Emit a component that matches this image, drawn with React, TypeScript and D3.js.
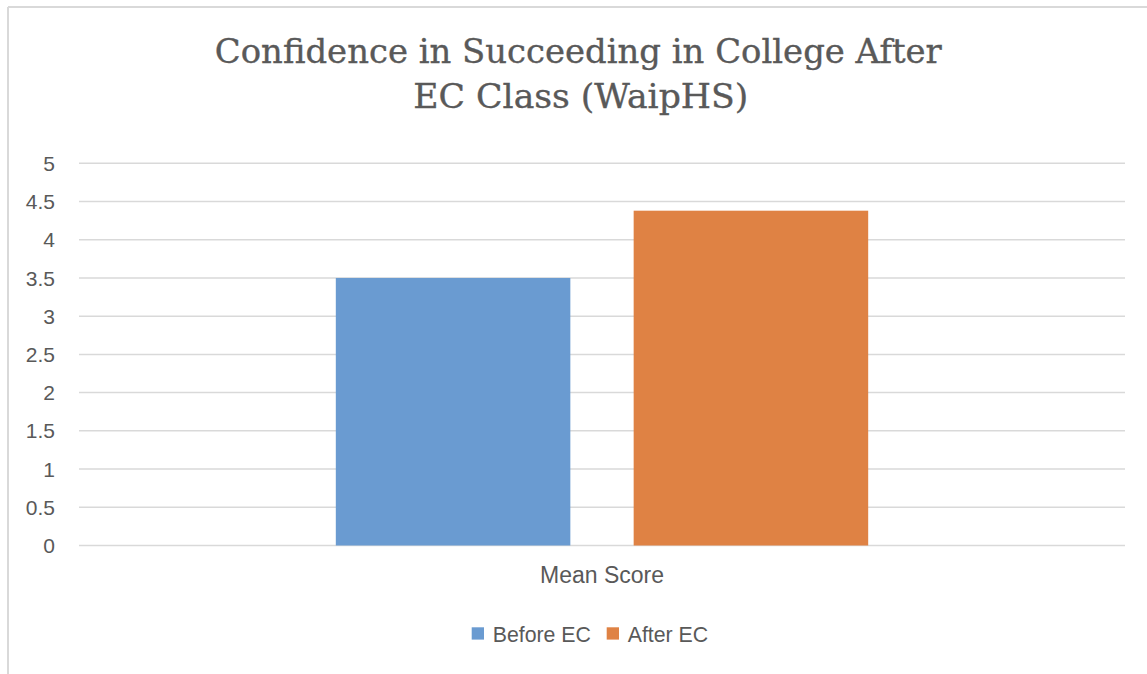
import React from "react";
import * as d3 from "d3";

// Mean confidence scores, before and after the EC class
const categories = ["Mean Score"];
const seriesNames = ["Before EC", "After EC"];
const seriesColors = ["#6A9BD1", "#DF8244"];
const beforeValues = [3.5];
const afterValues = [4.38];
const yTicks = [0, 0.5, 1, 1.5, 2, 2.5, 3, 3.5, 4, 4.5, 5];
const titleLines = ["Confidence in Succeeding in College After", "EC Class (WaipHS)"];

const W = 1147;
const H = 674;
const plot = { left: 79, right: 1125, top: 163.3, bottom: 545.5 };
const textColor = "#595959";
const gridColor = "#D9D9D9";
const sans = "'Liberation Sans', Arial, Helvetica, sans-serif";
const slab = "'DejaVu Serif', serif";

export default function App() {
  const x = d3.scaleBand<string>().domain(categories).range([plot.left, plot.right]).paddingInner(0).paddingOuter(0);
  const y = d3.scaleLinear().domain([0, 5]).range([plot.bottom, plot.top]);

  // Excel-style clustered layout: gap width 219%, overlap -27%
  const band = x.bandwidth();
  const gapWidth = 2.19;
  const overlap = -0.27;
  const nSeries = seriesNames.length;
  const barW = band / (nSeries - overlap * (nSeries - 1) + gapWidth);
  const step = barW * (1 - overlap);
  const groupW = barW + step * (nSeries - 1);

  const series = [beforeValues, afterValues];

  return (
    <svg
      width={W}
      height={H}
      style={{ position: "absolute", left: 0, top: 0, background: "#fff" }}
    >
      {/* frame */}
      <line x1={8} y1={7} x2={W} y2={7} stroke={gridColor} strokeWidth={2} />
      <line x1={8} y1={7} x2={8} y2={H} stroke={gridColor} strokeWidth={2} />

      {/* title */}
      {titleLines.map((t, i) => (
        <text
          key={t}
          x={i === 0 ? 578.3 : 580.8}
          y={62.7 + i * 45.6}
          textAnchor="middle"
          fontFamily={slab}
          fontSize={33}
          fill={textColor}
          stroke={textColor}
          strokeWidth={0.35}
          textLength={i === 0 ? 727 : 335}
          lengthAdjust="spacingAndGlyphs"
        >
          {t}
        </text>
      ))}

      {/* gridlines and y tick labels */}
      {yTicks.map((t) => (
        <g key={t}>
          <line
            x1={plot.left}
            x2={plot.right}
            y1={y(t)}
            y2={y(t)}
            stroke={gridColor}
            strokeWidth={1.5}
          />
          <text
            x={55}
            y={y(t)}
            dy="0.36em"
            textAnchor="end"
            fontFamily={sans}
            fontSize={21}
            fill={textColor}
          >
            {String(t)}
          </text>
        </g>
      ))}

      {/* bars */}
      {categories.map((c, ci) => {
        const x0 = (x(c) as number) + (band - groupW) / 2;
        return series.map((vals, si) => (
          <rect
            key={c + si}
            x={x0 + si * step}
            y={y(vals[ci])}
            width={barW}
            height={y(0) - y(vals[ci])}
            fill={seriesColors[si]}
          />
        ));
      })}

      {/* category label */}
      {categories.map((c) => (
        <text
          key={c}
          x={(x(c) as number) + band / 2}
          y={582.7}
          textAnchor="middle"
          fontFamily={sans}
          fontSize={23}
          fill={textColor}
        >
          {c}
        </text>
      ))}

      {/* legend */}
      {seriesNames.map((s, i) => {
        const lx = [471.7, 606.7][i];
        return (
          <g key={s}>
            <rect x={lx} y={627.3} width={12.3} height={12.3} fill={seriesColors[i]} />
            <text
              x={lx + 21}
              y={641.7}
              fontFamily={sans}
              fontSize={21.3}
              fill={textColor}
            >
              {s}
            </text>
          </g>
        );
      })}
    </svg>
  );
}
